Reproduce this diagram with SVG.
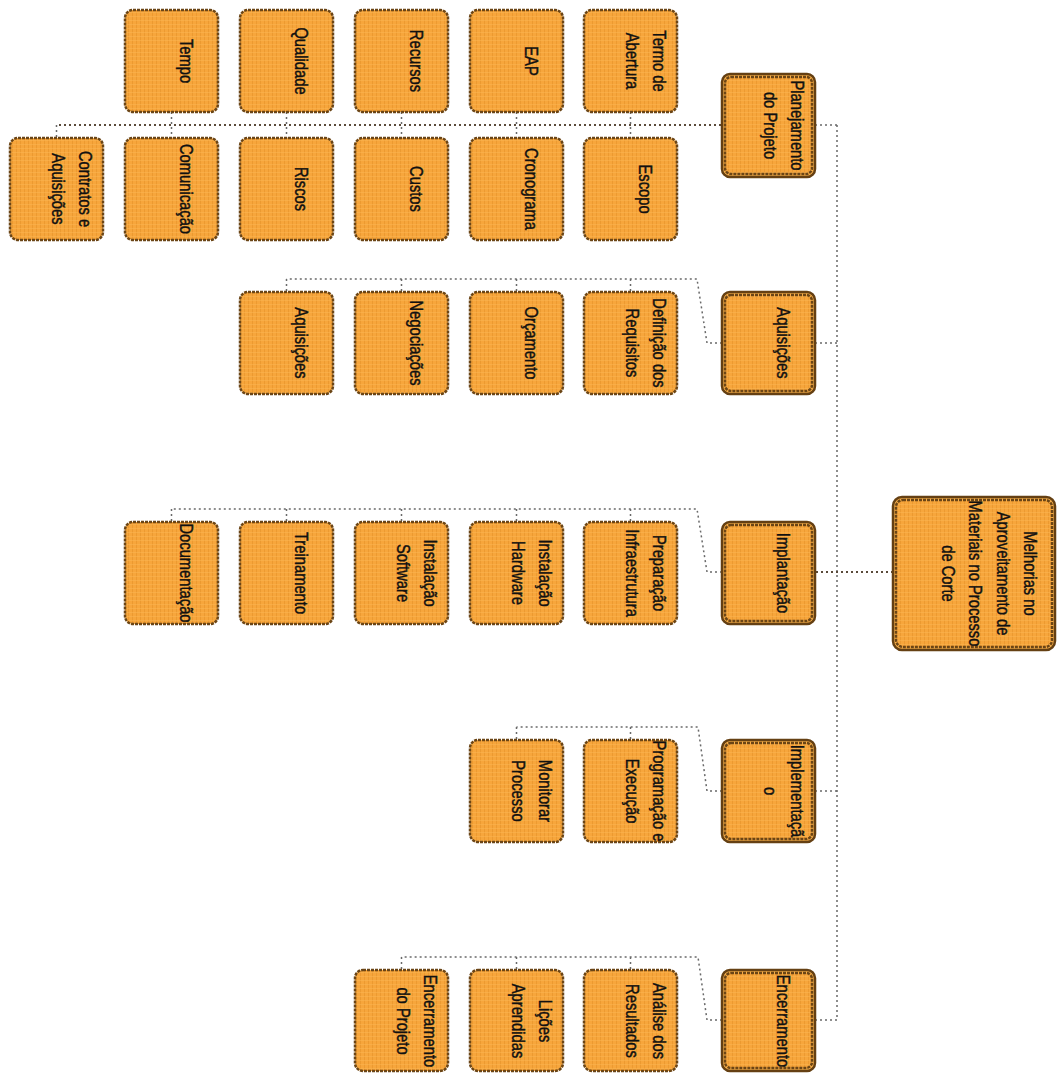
<svg xmlns="http://www.w3.org/2000/svg" width="1057" height="1073" viewBox="0 0 1057 1073">
<defs>
<pattern id="tex" width="4" height="4" patternUnits="userSpaceOnUse">
<rect width="4" height="4" fill="#F7A63C"/>
<rect x="0" y="0" width="1" height="4" fill="#E4922A" opacity="0.6"/>
<rect x="0" y="0" width="4" height="1" fill="#FBB553" opacity="0.5"/>
</pattern>
<style>
.box{fill:url(#tex);stroke:#6B4516;stroke-width:2.5;stroke-dasharray:3 1}
.outer{fill:#F9B04A;stroke:#654013;stroke-width:2.5}
.lbl{font-family:"Liberation Sans",Arial,sans-serif;font-size:18px;fill:#111;stroke:#111;stroke-width:0.45;text-anchor:middle}
.con{fill:none;stroke:#6a6a6a;stroke-width:1.5;stroke-dasharray:2 3}
.bus{fill:none;stroke:#5a4a3a;stroke-width:2;stroke-dasharray:2 3}
</style>
</defs>
<rect width="1057" height="1073" fill="#ffffff"/>

<g id="connectors">
<path class="con" d="M837,125 V1020"/>
<path class="bus" d="M893,572 H815"/>
<path class="con" d="M837,125 H815 M837,343 H815 M837,791 H815 M837,1020 H815"/>
<path class="bus" d="M721,125 H56.5"/>
<path class="con" d="M171.5,112 V138 M286.5,112 V138 M401.5,112 V138 M516.5,112 V138 M630.5,112 V138 M56.5,125 V138"/>
<path class="con" d="M722,343 H707 L697,279 H286.5 M286.5,279 V292 M401.5,279 V292 M516.5,279 V292 M630.5,279 V292"/>
<path class="con" d="M722,572 H707 L697,509 H171.5 M171.5,509 V522 M286.5,509 V522 M401.5,509 V522 M516.5,509 V522 M630.5,509 V522"/>
<path class="con" d="M722,791 H707 L698,727 H516.5 M516.5,727 V740 M630.5,727 V740"/>
<path class="con" d="M722,1020 H707 L698,957 H401.5 M401.5,957 V970 M516.5,957 V970 M630.5,957 V970"/>
</g>

<g id="tempo"><rect class="box" x="125" y="10" width="93" height="102" rx="8"/><g transform="translate(171.5,61) rotate(90) scale(0.82,1)"><text class="lbl" y="-9">Tempo</text></g></g>
<g id="qualidade"><rect class="box" x="240" y="10" width="93" height="102" rx="8"/><g transform="translate(286.5,61) rotate(90) scale(0.82,1)"><text class="lbl" y="-9">Qualidade</text></g></g>
<g id="recursos"><rect class="box" x="355" y="10" width="93" height="102" rx="8"/><g transform="translate(401.5,61) rotate(90) scale(0.82,1)"><text class="lbl" y="-9">Recursos</text></g></g>
<g id="eap"><rect class="box" x="470" y="10" width="93" height="102" rx="8"/><g transform="translate(516.5,61) rotate(90) scale(0.82,1)"><text class="lbl" y="-9">EAP</text></g></g>
<g id="termo"><rect class="box" x="584" y="10" width="93" height="102" rx="8"/><g transform="translate(630.5,61) rotate(90) scale(0.82,1)"><text class="lbl" y="-22.75">Termo de</text><text class="lbl" y="4.75">Abertura</text></g></g>

<g id="contratos"><rect class="box" x="10" y="138" width="93" height="102" rx="8"/><g transform="translate(56.5,189) rotate(90) scale(0.82,1)"><text class="lbl" y="-22.75">Contratos e</text><text class="lbl" y="4.75">Aquisições</text></g></g>
<g id="comunicacao"><rect class="box" x="125" y="138" width="93" height="102" rx="8"/><g transform="translate(171.5,189) rotate(90) scale(0.82,1)"><text class="lbl" y="-9">Comunicação</text></g></g>
<g id="riscos"><rect class="box" x="240" y="138" width="93" height="102" rx="8"/><g transform="translate(286.5,189) rotate(90) scale(0.82,1)"><text class="lbl" y="-9">Riscos</text></g></g>
<g id="custos"><rect class="box" x="355" y="138" width="93" height="102" rx="8"/><g transform="translate(401.5,189) rotate(90) scale(0.82,1)"><text class="lbl" y="-9">Custos</text></g></g>
<g id="cronograma"><rect class="box" x="470" y="138" width="93" height="102" rx="8"/><g transform="translate(516.5,189) rotate(90) scale(0.82,1)"><text class="lbl" y="-9">Cronograma</text></g></g>
<g id="escopo"><rect class="box" x="584" y="138" width="93" height="102" rx="8"/><g transform="translate(630.5,189) rotate(90) scale(0.82,1)"><text class="lbl" y="-9">Escopo</text></g></g>

<g id="planejamento"><rect class="outer" x="722" y="74" width="93" height="103" rx="8"/><rect class="box" x="725" y="77" width="87" height="97" rx="6"/><g transform="translate(768.5,125.5) rotate(90) scale(0.82,1)"><text class="lbl" y="-22.75">Planejamento</text><text class="lbl" y="4.75">do Projeto</text></g></g>

<g id="aq-aquisicoes"><rect class="box" x="240" y="292" width="93" height="102" rx="8"/><g transform="translate(286.5,343) rotate(90) scale(0.82,1)"><text class="lbl" y="-9">Aquisições</text></g></g>
<g id="negociacoes"><rect class="box" x="355" y="292" width="93" height="102" rx="8"/><g transform="translate(401.5,343) rotate(90) scale(0.82,1)"><text class="lbl" y="-9">Negociações</text></g></g>
<g id="orcamento"><rect class="box" x="470" y="292" width="93" height="102" rx="8"/><g transform="translate(516.5,343) rotate(90) scale(0.82,1)"><text class="lbl" y="-9">Orçamento</text></g></g>
<g id="definicao"><rect class="box" x="584" y="292" width="93" height="102" rx="8"/><g transform="translate(630.5,343) rotate(90) scale(0.82,1)"><text class="lbl" y="-22.75">Definição dos</text><text class="lbl" y="4.75">Requisitos</text></g></g>
<g id="aquisicoes"><rect class="outer" x="722" y="292" width="93" height="102" rx="8"/><rect class="box" x="725" y="295" width="87" height="96" rx="6"/><g transform="translate(768.5,343) rotate(90) scale(0.82,1)"><text class="lbl" y="-9">Aquisições</text></g></g>

<g id="documentacao"><rect class="box" x="125" y="522" width="93" height="102" rx="8"/><g transform="translate(171.5,573) rotate(90) scale(0.82,1)"><text class="lbl" y="-9">Documentação</text></g></g>
<g id="treinamento"><rect class="box" x="240" y="522" width="93" height="102" rx="8"/><g transform="translate(286.5,573) rotate(90) scale(0.82,1)"><text class="lbl" y="-9">Treinamento</text></g></g>
<g id="inst-software"><rect class="box" x="355" y="522" width="93" height="102" rx="8"/><g transform="translate(401.5,573) rotate(90) scale(0.82,1)"><text class="lbl" y="-22.75">Instalação</text><text class="lbl" y="4.75">Software</text></g></g>
<g id="inst-hardware"><rect class="box" x="470" y="522" width="93" height="102" rx="8"/><g transform="translate(516.5,573) rotate(90) scale(0.82,1)"><text class="lbl" y="-22.75">Instalação</text><text class="lbl" y="4.75">Hardware</text></g></g>
<g id="preparacao"><rect class="box" x="584" y="522" width="93" height="102" rx="8"/><g transform="translate(630.5,573) rotate(90) scale(0.82,1)"><text class="lbl" y="-22.75">Preparação</text><text class="lbl" y="4.75">Infraestrutura</text></g></g>
<g id="implantacao"><rect class="outer" x="722" y="522" width="93" height="102" rx="8"/><rect class="box" x="725" y="525" width="87" height="96" rx="6"/><g transform="translate(768.5,573) rotate(90) scale(0.82,1)"><text class="lbl" y="-9">Implantação</text></g></g>

<g id="monitorar"><rect class="box" x="470" y="740" width="93" height="102" rx="8"/><g transform="translate(516.5,791) rotate(90) scale(0.82,1)"><text class="lbl" y="-22.75">Monitorar</text><text class="lbl" y="4.75">Processo</text></g></g>
<g id="programacao"><rect class="box" x="584" y="740" width="93" height="102" rx="8"/><g transform="translate(630.5,791) rotate(90) scale(0.82,1)"><text class="lbl" y="-22.75">Programação e</text><text class="lbl" y="4.75">Execução</text></g></g>
<g id="implementacao"><rect class="outer" x="722" y="740" width="93" height="102" rx="8"/><rect class="box" x="725" y="743" width="87" height="96" rx="6"/><g transform="translate(768.5,791) rotate(90) scale(0.82,1)"><text class="lbl" y="-22.75">Implementaçã</text><text class="lbl" y="4.75">o</text></g></g>

<g id="enc-projeto"><rect class="box" x="355" y="970" width="93" height="101" rx="8"/><g transform="translate(401.5,1021) rotate(90) scale(0.82,1)"><text class="lbl" y="-22.75">Encerramento</text><text class="lbl" y="4.75">do Projeto</text></g></g>
<g id="licoes"><rect class="box" x="470" y="970" width="93" height="101" rx="8"/><g transform="translate(516.5,1021) rotate(90) scale(0.82,1)"><text class="lbl" y="-22.75">Lições</text><text class="lbl" y="4.75">Aprendidas</text></g></g>
<g id="analise"><rect class="box" x="584" y="970" width="93" height="101" rx="8"/><g transform="translate(630.5,1021) rotate(90) scale(0.82,1)"><text class="lbl" y="-22.75">Análise dos</text><text class="lbl" y="4.75">Resultados</text></g></g>
<g id="encerramento"><rect class="outer" x="722" y="970" width="93" height="101" rx="8"/><rect class="box" x="725" y="973" width="87" height="95" rx="6"/><g transform="translate(768.5,1021) rotate(90) scale(0.82,1)"><text class="lbl" y="-9">Encerramento</text></g></g>

<g id="root"><rect class="outer" x="893" y="497" width="162" height="153" rx="9"/><rect class="box" x="896" y="500" width="156" height="147" rx="7"/><g transform="translate(974,573.5) rotate(90) scale(0.82,1)"><text class="lbl" y="-50.25">Melhorias no</text><text class="lbl" y="-22.75">Aproveitamento de</text><text class="lbl" y="4.75">Materiais no Processo</text><text class="lbl" y="32.25">de Corte</text></g></g>
</svg>
